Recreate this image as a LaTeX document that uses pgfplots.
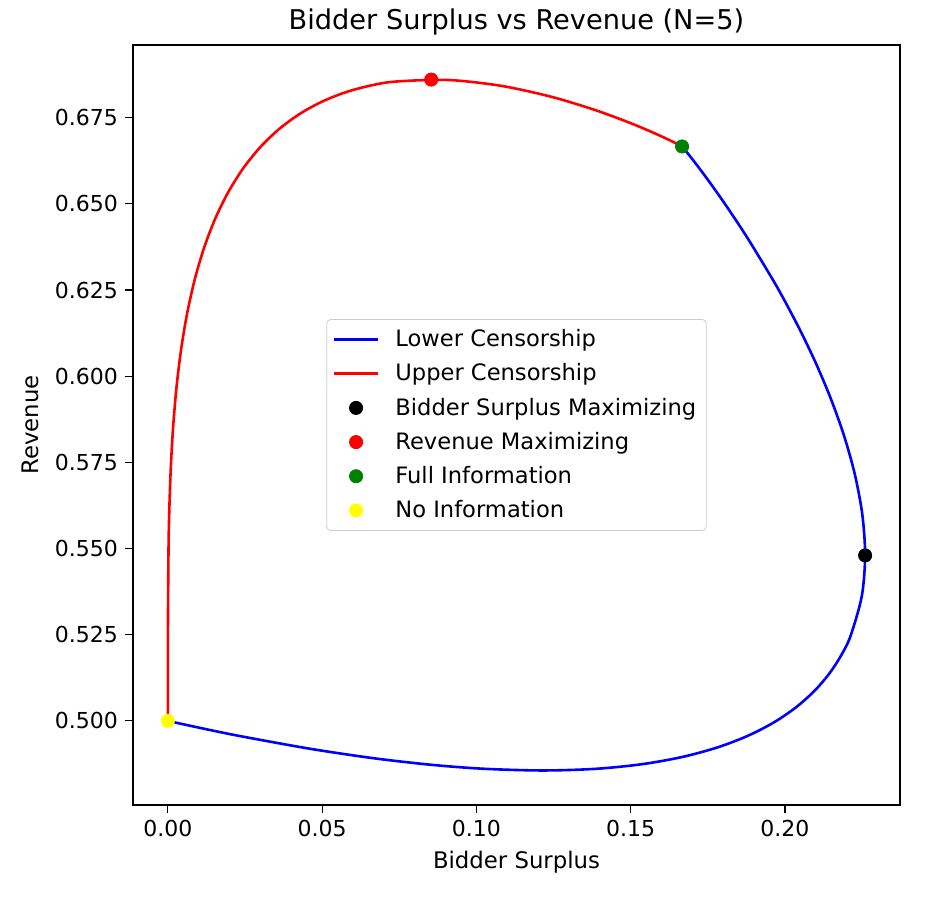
\documentclass[border=0pt]{standalone}
\usepackage{pgfplots}
\pgfplotsset{compat=1.18}
\usepackage{fontspec}
\setmainfont{DejaVu Sans}
\usetikzlibrary{calc}
\definecolor{mgreen}{RGB}{0,128,0}
\definecolor{myellow}{RGB}{255,255,0}
\definecolor{legframe}{RGB}{204,204,204}
\begin{document}
\begin{tikzpicture}
\begin{axis}[name=ax, scale only axis, width=383.5pt, height=380pt,
  xmin=-0.0113, xmax=0.2373, ymin=0.4756, ymax=0.6961,
  xtick={0,0.05,0.1,0.15,0.2},
  ytick={0.5,0.525,0.55,0.575,0.6,0.625,0.65,0.675},
  scaled ticks=false,
  xticklabel style={/pgf/number format/.cd, fixed, fixed zerofill, precision=2},
  yticklabel style={/pgf/number format/.cd, fixed, fixed zerofill, precision=3},
  /pgf/number format/assume math mode=true,
  tick align=outside, xtick pos=left, ytick pos=left,
  major tick length=4pt,
  tick style={black, line width=0.6pt},
  axis line style={line width=0.6pt},
  every tick label/.append style={font=\fontsize{11}{13}\selectfont},
  title={Bidder Surplus vs Revenue (N=5)},
  every axis title/.style={font=\fontsize{13.6}{16}\selectfont, at={(axis description cs:0.5,1)}, anchor=center, yshift=11.5pt},
  xlabel={Bidder Surplus}, ylabel={Revenue},
  every axis x label/.style={at={(axis description cs:0.5,0)}, anchor=center, yshift=-28.5pt, font=\fontsize{11.4}{13}\selectfont},
  every axis y label/.style={at={(axis description cs:0,0.5)}, anchor=center, xshift=-51.5pt, rotate=90, font=\fontsize{11.4}{13}\selectfont},
  legend style={at={(0.5,0.5)}, anchor=center, draw=legframe, rounded corners=2pt,
    font=\fontsize{11.3}{13}\selectfont, row sep=3pt, inner sep=3pt,
    /tikz/every odd column/.append style={column sep=6pt}},
  legend cell align=left,
  legend image code/.code={\draw[mark repeat=2,mark phase=2,#1] plot coordinates {(0pt,0pt) (11pt,0pt) (22pt,0pt)};},
]
% Lower censorship (blue)
\addplot[blue, line width=1.3pt, smooth] coordinates {
(0.166667,0.666667) (0.166680,0.666653) (0.167040,0.666272) (0.167725,0.665527)
(0.169097,0.663994) (0.171481,0.661239) (0.175200,0.656768) (0.180506,0.650059)
(0.187500,0.640625) (0.196025,0.628082) (0.200713,0.620573) (0.205547,0.612235)
(0.210377,0.603088) (0.215012,0.593172) (0.219214,0.582591) (0.222690,0.571427)
(0.225089,0.559838) (0.225993,0.548014) (0.224913,0.536195) (0.221280,0.524672)
(0.218305,0.519128) (0.214439,0.513794) (0.209586,0.508724) (0.203642,0.503975)
(0.196498,0.499610) (0.188038,0.495697) (0.178138,0.492308) (0.166667,0.489520)
(0.153486,0.487415) (0.138451,0.486083) (0.121404,0.485618) (0.102185,0.486118)
(0.085129,0.487285) (0.066481,0.489195) (0.046144,0.491909) (0.024018,0.495488)
(0.012252,0.497624) (0,0.5)
};
\addlegendentry{Lower Censorship}
% Upper censorship (red)
\addplot[red, line width=1.3pt, smooth] coordinates {
(0,0.5) (0.0000144,0.524986) (0.000212,0.549784) (0.000495,0.561991)
(0.000981,0.573985) (0.001736,0.585691) (0.002827,0.597035) (0.004317,0.607938)
(0.006266,0.618327) (0.008728,0.628130) (0.011745,0.637283) (0.015352,0.645728)
(0.019571,0.653416) (0.024410,0.660309) (0.029867,0.666379) (0.035922,0.671610)
(0.042544,0.675997) (0.049687,0.679551) (0.057292,0.682292) (0.065286,0.684252)
(0.073586,0.685476) (0.090720,0.685952) (0.107848,0.684278) (0.124052,0.681130)
(0.138428,0.677246) (0.150187,0.673355) (0.158777,0.670087) (0.164025,0.667877)
(0.166295,0.666845) (0.166667,0.666667)
};
\addlegendentry{Upper Censorship}
\addplot[only marks, mark=*, mark size=3.3pt, black, mark options={draw=black, fill=black}] coordinates {(0.225993,0.548014)};
\addlegendentry{Bidder Surplus Maximizing}
\addplot[only marks, mark=*, mark size=3.3pt, red, mark options={draw=red, fill=red}] coordinates {(0.085355,0.686070)};
\addlegendentry{Revenue Maximizing}
\addplot[only marks, mark=*, mark size=3.3pt, mgreen, mark options={draw=mgreen, fill=mgreen}] coordinates {(0.166667,0.666667)};
\addlegendentry{Full Information}
\addplot[only marks, mark=*, mark size=3.3pt, myellow, mark options={draw=myellow, fill=myellow}] coordinates {(0,0.5)};
\addlegendentry{No Information}
\end{axis}
\pgfresetboundingbox
\path[use as bounding box] ($(ax.south west)+(-66.5pt,-47.5pt)$) rectangle ($(ax.north east)+(24.5pt,22.5pt)$);
\end{tikzpicture}
\end{document}
